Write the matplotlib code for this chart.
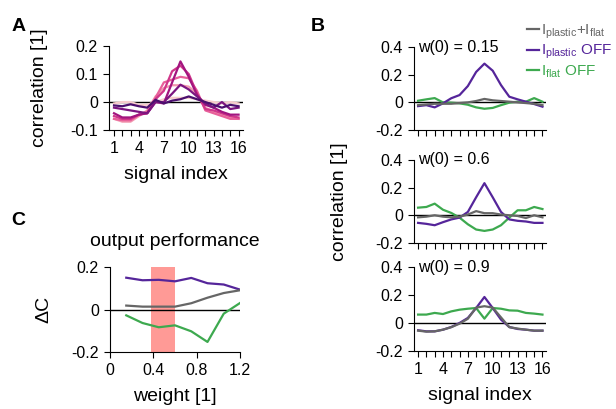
import numpy as np
import matplotlib
matplotlib.use("Agg")
import matplotlib.pyplot as plt
from matplotlib.lines import Line2D

plt.rcParams['font.family'] = ['Liberation Sans', 'DejaVu Sans']
plt.rcParams['mathtext.fontset'] = 'custom'
plt.rcParams['mathtext.rm'] = 'Liberation Sans'
plt.rcParams['mathtext.it'] = 'Liberation Sans'

# ---- data ----
signal_idx = np.arange(1, 17)

# panel A: correlation profiles (light -> dark)
a_colors = ['#f7cccc', '#f29ab0', '#e8609a', '#d0368a', '#a3157f', '#7b1580', '#4b0f6e']
a_lines = [
    [-0.005, 0.0, 0.0, -0.01, -0.01, 0.0, 0.01, 0.015, 0.015, 0.015, 0.01, 0.005, 0.0, -0.005, 0.0, -0.005],
    [-0.06, -0.07, -0.07, -0.05, -0.03, 0.02, 0.05, 0.06, 0.06, 0.055, 0.03, -0.02, -0.035, -0.045, -0.055, -0.06],
    [-0.06, -0.065, -0.065, -0.045, -0.035, 0.015, 0.07, 0.08, 0.09, 0.085, 0.04, -0.03, -0.04, -0.05, -0.06, -0.06],
    [-0.05, -0.06, -0.06, -0.045, -0.04, 0.01, 0.04, 0.11, 0.13, 0.10, 0.03, -0.025, -0.03, -0.04, -0.05, -0.055],
    [-0.04, -0.055, -0.055, -0.045, -0.04, 0.0, -0.005, 0.07, 0.145, 0.09, 0.025, -0.01, -0.02, -0.035, -0.045, -0.045],
    [-0.02, -0.025, -0.03, -0.035, -0.04, 0.0, 0.0, 0.03, 0.062, 0.045, 0.02, -0.005, -0.02, 0.0, -0.025, -0.02],
    [-0.012, -0.015, -0.008, -0.015, -0.02, 0.008, -0.005, 0.005, 0.01, 0.02, 0.01, 0.0, -0.01, -0.02, -0.01, -0.015],
]

# panel B: three initial weights
b_titles = ['w(0) = 0.15', 'w(0) = 0.6', 'w(0) = 0.9']
b_both = [
    [-0.02, -0.015, -0.01, -0.01, -0.01, -0.005, 0.0, 0.01, 0.025, 0.015, 0.01, 0.005, 0.0, -0.005, -0.01, -0.02],
    [-0.015, -0.01, 0.0, -0.01, -0.015, -0.01, 0.005, 0.03, 0.015, 0.015, 0.005, 0.0, -0.005, -0.02, 0.0, -0.015],
    [-0.055, -0.062, -0.06, -0.048, -0.03, -0.005, 0.03, 0.11, 0.12, 0.11, 0.04, -0.03, -0.04, -0.048, -0.055, -0.055],
]
b_plastic_off = [
    [-0.027, -0.02, -0.036, -0.007, 0.03, 0.053, 0.118, 0.22, 0.28, 0.229, 0.125, 0.041, 0.022, 0.005, -0.012, -0.031],
    [-0.055, -0.062, -0.072, -0.05, -0.03, -0.017, 0.024, 0.13, 0.232, 0.13, 0.024, -0.03, -0.04, -0.045, -0.055, -0.055],
    [-0.052, -0.06, -0.06, -0.048, -0.029, 0.0, 0.036, 0.107, 0.186, 0.107, 0.024, -0.029, -0.043, -0.048, -0.055, -0.055],
]
b_flat_off = [
    [0.012, 0.022, 0.031, 0.0, -0.002, -0.007, -0.017, -0.036, -0.046, -0.04, -0.02, -0.002, 0.005, 0.005, 0.031, 0.005],
    [0.055, 0.06, 0.084, 0.04, 0.017, -0.017, -0.065, -0.103, -0.113, -0.103, -0.072, -0.017, 0.036, 0.036, 0.06, 0.045],
    [0.06, 0.06, 0.072, 0.064, 0.083, 0.095, 0.102, 0.107, 0.031, 0.107, 0.102, 0.09, 0.088, 0.072, 0.067, 0.06],
]

# panel C: output performance vs weight
weights = [0.15, 0.3, 0.45, 0.6, 0.75, 0.9, 1.05, 1.2]
c_plastic_off = [0.15, 0.138, 0.14, 0.133, 0.149, 0.124, 0.118, 0.094]
c_both = [0.019, 0.014, 0.014, 0.014, 0.03, 0.056, 0.078, 0.091]
c_flat_off = [-0.027, -0.063, -0.083, -0.074, -0.102, -0.152, -0.019, 0.031]
span = (0.38, 0.6)

GRAY = '#666666'
PURPLE = '#55259a'
GREEN = '#3da94f'
TICK = 11.5
LABEL = 14


def style(ax):
    for s in ['top', 'right']:
        ax.spines[s].set_visible(False)
    ax.tick_params(direction='out', labelsize=TICK, length=4, width=0.8, pad=4)


fig = plt.figure(figsize=(6.16, 4.09), dpi=100)

# ---- A ----
axA = fig.add_axes([0.177, 0.682, 0.217, 0.2055])
for col, ys in zip(a_colors, a_lines):
    axA.plot(signal_idx, ys, color=col, lw=1.6)
axA.axhline(0, color='black', lw=1.0, zorder=0)
axA.set_xlim(0.4, 16.5)
axA.set_ylim(-0.1, 0.2)
axA.set_xticks(signal_idx)
axA.set_xticklabels([str(i) if (i - 1) % 3 == 0 else '' for i in signal_idx])
axA.set_yticks([-0.1, 0, 0.1, 0.2])
axA.set_yticklabels(['-0.1', '0', '0.1', '0.2'])
style(axA)
axA.set_xlabel('signal index', fontsize=LABEL, labelpad=7)
axA.set_ylabel('correlation [1]', fontsize=LABEL)
axA.yaxis.set_label_coords(-0.46, 0.5)

# ---- B ----
b_pos = [[0.672, 0.682, 0.214, 0.203], [0.672, 0.406, 0.214, 0.203], [0.672, 0.142, 0.214, 0.205]]
b_axes = []
for k in range(3):
    ax = fig.add_axes(b_pos[k])
    ax.plot(signal_idx, b_flat_off[k], color=GREEN, lw=1.6)
    ax.plot(signal_idx, b_plastic_off[k], color=PURPLE, lw=1.6)
    ax.plot(signal_idx, b_both[k], color=GRAY, lw=1.6)
    ax.axhline(0, color='black', lw=1.0, zorder=0)
    ax.set_xlim(0.5, 16.4)
    ax.set_ylim(-0.2, 0.4)
    ax.set_xticks(signal_idx)
    if k == 2:
        ax.set_xticklabels([str(i) if (i - 1) % 3 == 0 else '' for i in signal_idx])
        ax.set_xlabel('signal index', fontsize=LABEL, labelpad=7)
    else:
        ax.set_xticklabels([])
    ax.set_yticks([-0.2, 0, 0.2, 0.4])
    ax.set_yticklabels(['-0.2', '0', '0.2', '0.4'])
    style(ax)
    ax.text(0.03, 1.0, b_titles[k], transform=ax.transAxes, fontsize=TICK,
            va='center', ha='left')
    b_axes.append(ax)
b_axes[1].set_ylabel('correlation [1]', fontsize=LABEL)
b_axes[1].yaxis.set_label_coords(-0.5, 0.5)

handles = [Line2D([], [], color=GRAY, lw=1.6), Line2D([], [], color=PURPLE, lw=1.6),
           Line2D([], [], color=GREEN, lw=1.6)]
labels = [r'I$_{\mathrm{plastic}}$+I$_{\mathrm{flat}}$', r'I$_{\mathrm{plastic}}$ OFF',
          r'I$_{\mathrm{flat}}$ OFF']
leg = fig.legend(handles, labels, loc='upper left', bbox_to_anchor=(0.855, 0.945),
                 bbox_transform=fig.transFigure, frameon=False, fontsize=11,
                 borderaxespad=0, borderpad=0, handlelength=0.8, handletextpad=0.12,
                 labelspacing=0.15)
for txt, col in zip(leg.get_texts(), [GRAY, PURPLE, GREEN]):
    txt.set_color(col)

# ---- C ----
axC = fig.add_axes([0.1786, 0.139, 0.211, 0.208])
axC.axvspan(span[0], span[1], color='#ff9a96', lw=0, zorder=0)
axC.plot(weights, c_plastic_off, color=PURPLE, lw=1.6)
axC.plot(weights, c_both, color=GRAY, lw=1.6)
axC.plot(weights, c_flat_off, color=GREEN, lw=1.6)
axC.axhline(0, color='black', lw=1.0, zorder=1)
axC.set_xlim(0, 1.2)
axC.set_ylim(-0.2, 0.2)
axC.set_xticks([0, 0.4, 0.8, 1.2])
axC.set_xticklabels(['0', '0.4', '0.8', '1.2'])
axC.set_yticks([-0.2, 0, 0.2])
axC.set_yticklabels(['-0.2', '0', '0.2'])
style(axC)
axC.set_xlabel('weight [1]', fontsize=LABEL, labelpad=7)
axC.set_ylabel('ΔC', fontsize=LABEL)
axC.yaxis.set_label_coords(-0.44, 0.5)
axC.set_title('output performance', fontsize=LABEL, pad=15)

# panel letters
for letter, x, y in [('A', 0.018, 0.934), ('B', 0.505, 0.934), ('C', 0.018, 0.462)]:
    fig.text(x, y, letter, fontsize=14, fontweight='bold', va='center', ha='left')

fig.savefig('out.png', dpi=100)
